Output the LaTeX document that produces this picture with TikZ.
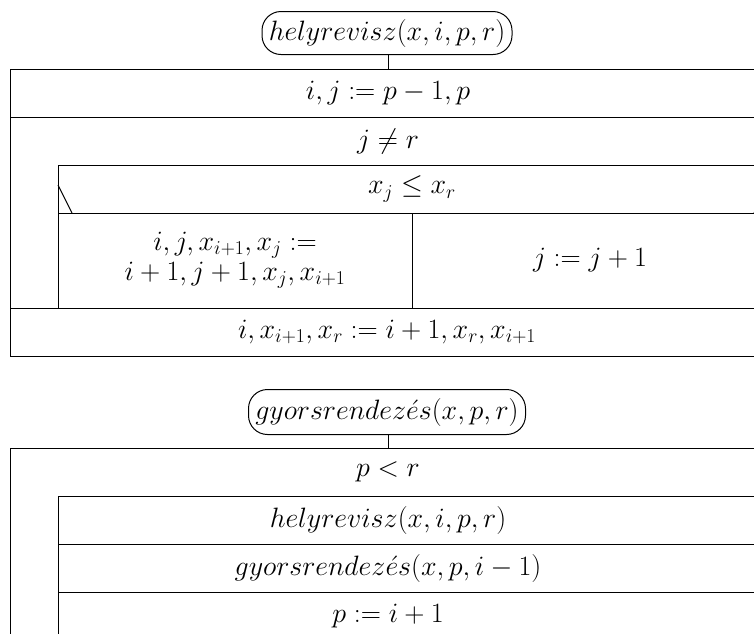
\documentclass[tikz,border=0pt]{standalone}
\usepackage{fix-cm}
\begin{document}
\begin{tikzpicture}[x=1pt,y=-1pt,line width=1pt,
  txt/.style={inner sep=0pt,font=\fontsize{28}{33}\selectfont},
  titlebox/.style={draw,rounded corners=19pt,minimum height=43pt,inner sep=0pt,font=\fontsize{28}{33}\selectfont}]
\useasboundingbox (0,0) rectangle (754,633);
\clip (0,0) rectangle (754,633);
% ---------- helyrevisz ----------
\node[titlebox,minimum width=250pt] (t1) at (387,33) {$helyrevisz(x,i,p,r)$};
\coordinate (t1in) at (388,69);
\draw (t1.south -| t1in) -- (t1in);
\draw (10,69) rectangle (768,356);
\draw (10,117) -- (768,117);
\draw (58,165) -- (768,165);
\draw (58,165) -- (58,308);
\draw (58,213) -- (768,213);
\draw (58,185) -- (72,213);
\draw (768,185) -- (754,213);
\draw (412,213) -- (412,308);
\draw (10,308) -- (768,308);
\node[txt] (a1) at (388,93) {$i,j:=p-1,p$};
\node[txt] (a2) at (388,141) {$j\neq r$};
\node[txt] (a3) at (412,189) {$x_j\leq x_r$};
\node[txt,align=center] (a4) at (235,260) {$i,j,x_{i+1},x_j:=$\\[-3pt]$i+1,j+1,x_j,x_{i+1}$};
\node[txt] (a5) at (590,260) {$j:=j+1$};
\node[txt] (a6) at (387,332) {$i,x_{i+1},x_r:=i+1,x_r,x_{i+1}$};
% ---------- gyorsrendezes ----------
\node[titlebox,minimum width=277pt,minimum height=45pt] (t2) at (387,412) {$gyorsrendez\acute{e}s(x,p,r)$};
\coordinate (t2in) at (388,448);
\draw (t2.south -| t2in) -- (t2in);
\draw (768,448) -- (10,448) -- (10,640);
\draw (768,496) -- (58,496) -- (58,640);
\draw (58,544) -- (768,544);
\draw (58,592) -- (768,592);
\node[txt] (b1) at (388,472) {$p<r$};
\node[txt] (b2) at (388,520) {$helyrevisz(x,i,p,r)$};
\node[txt] (b3) at (388,568) {$gyorsrendez\acute{e}s(x,p,i-1)$};
\node[txt] (b4) at (388,616) {$p:=i+1$};
\end{tikzpicture}
\end{document}
